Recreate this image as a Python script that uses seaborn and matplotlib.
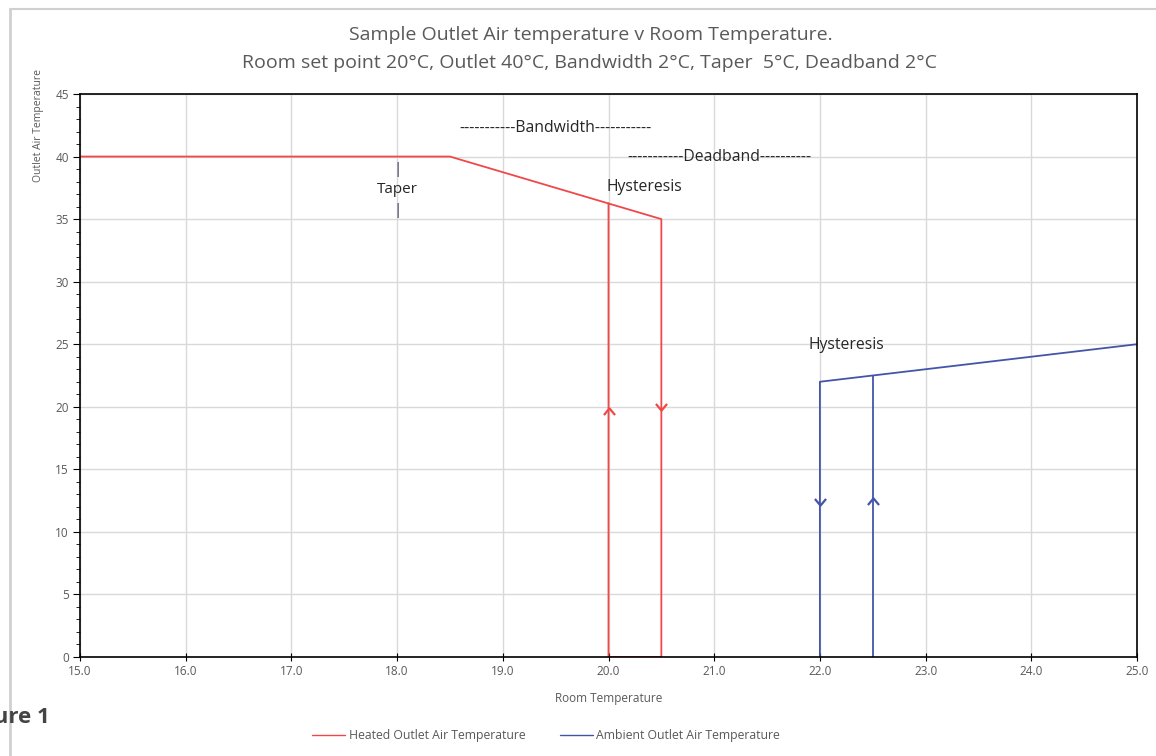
import matplotlib
matplotlib.use("Agg")
import matplotlib.pyplot as plt
import seaborn as sns
import pandas as pd
from matplotlib.lines import Line2D

# heated outlet curve (closed hysteresis loop)
heated_x = [15.0, 18.5, 20.0, 20.5, 20.5, 20.0, 20.0]
heated_y = [40.0, 40.0, 36.25, 35.0, 0.0, 0.0, 36.25]

# ambient outlet curve, two pieces
ambient_x1 = [22.0, 22.0, 25.0]
ambient_y1 = [0.0, 22.0, 25.0]
ambient_x2 = [22.5, 22.5]
ambient_y2 = [0.0, 22.5]

x_ticks = [15.0, 16.0, 17.0, 18.0, 19.0, 20.0, 21.0, 22.0, 23.0, 24.0, 25.0]
y_ticks = [0, 5, 10, 15, 20, 25, 30, 35, 40, 45]

red = "#f04848"
blue = "#4455a8"
grey = "#595959"

sns.set_style("white")
plt.rcParams["font.family"] = ["Open Sans", "DejaVu Sans"]

fig = plt.figure(figsize=(11.56, 7.56), dpi=100)
ax = fig.add_axes([80 / 1156, 1 - 657 / 756, (1137 - 80) / 1156, (657 - 94) / 756])

heated = pd.DataFrame({"x": heated_x, "y": heated_y})
amb1 = pd.DataFrame({"x": ambient_x1, "y": ambient_y1})
amb2 = pd.DataFrame({"x": ambient_x2, "y": ambient_y2})

sns.lineplot(data=heated, x="x", y="y", sort=False, estimator=None, color=red, lw=1.3, ax=ax)
sns.lineplot(data=amb1, x="x", y="y", sort=False, estimator=None, color=blue, lw=1.3, ax=ax)
sns.lineplot(data=amb2, x="x", y="y", sort=False, estimator=None, color=blue, lw=1.3, ax=ax)

# little chevron arrows on the vertical legs
up = [(-1, -1), (0, 0.2), (1, -1)]
down = [(-1, 1), (0, -0.2), (1, 1)]
ax.plot([20.0], [19.8], marker=up, ms=8, mfc="none", mec=red, mew=1.6, ls="none")
ax.plot([20.5], [19.8], marker=down, ms=8, mfc="none", mec=red, mew=1.6, ls="none")
ax.plot([22.0], [12.2], marker=down, ms=8, mfc="none", mec=blue, mew=1.6, ls="none")
ax.plot([22.5], [12.6], marker=up, ms=8, mfc="none", mec=blue, mew=1.6, ls="none")

ax.set_xlim(15, 25)
ax.set_ylim(0, 45)
ax.set_xticks(x_ticks)
ax.set_xticklabels([f"{t:.1f}" for t in x_ticks])
ax.set_yticks(y_ticks)
ax.set_yticks(range(0, 46), minor=True)
ax.grid(True, which="major", color="#d9d9d9", lw=1)
ax.set_axisbelow(True)
for s in ax.spines.values():
    s.set_color("black")
    s.set_linewidth(1.2)
ax.tick_params(axis="x", which="major", labelsize=8.5, labelcolor=grey, length=6,
               direction="inout", bottom=True, color="black", pad=3)
ax.tick_params(axis="y", which="major", labelsize=8.5, labelcolor=grey, length=5,
               direction="out", left=True, color="black", pad=3)
ax.tick_params(axis="y", which="minor", length=3, direction="out", left=True, color="black")

ax.set_xlabel("Room Temperature", fontsize=8.5, color=grey, labelpad=10)
ax.set_ylabel("")
fig.text(39 / 1156, 1 - 125 / 756, "Outlet Air Temperature", rotation=90,
         fontsize=7.5, color=grey, ha="center", va="center")

# annotations
ax.text(19.5, 42.3, "-----------Bandwidth-----------", fontsize=11.3, ha="center", va="center")
ax.text(21.05, 40.0, "-----------Deadband----------", fontsize=11.3, ha="center", va="center")
ax.text(18.0, 37.4, "Taper", fontsize=11, ha="center", va="center")
ax.text(18.0, 39.0, "|", fontsize=11, ha="center", va="center", color="#333355")
ax.text(18.0, 35.7, "|", fontsize=11, ha="center", va="center", color="#333355")
ax.text(20.34, 37.6, "Hysteresis", fontsize=11.3, ha="center", va="center")
ax.text(22.25, 24.9, "Hysteresis", fontsize=11.3, ha="center", va="center")

fig.text(591 / 1156, 1 - 35 / 756, "Sample Outlet Air temperature v Room Temperature.",
         fontsize=14, color=grey, ha="center", va="center")
fig.text(589 / 1156, 1 - 63 / 756,
         "Room set point 20°C, Outlet 40°C, Bandwidth 2°C, Taper  5°C, Deadband 2°C",
         fontsize=14, color=grey, ha="center", va="center")

# legend
handles = [Line2D([], [], color=red, lw=1.0), Line2D([], [], color=blue, lw=1.0)]
fig.legend(handles, ["Heated Outlet Air Temperature", "Ambient Outlet Air Temperature"],
           loc="center", bbox_to_anchor=(546 / 1156, 1 - 736 / 756), ncol=2, frameon=False,
           fontsize=8.8, handlelength=2.7, handletextpad=0.3, columnspacing=2.8,
           labelcolor=grey)

# cropped caption and page frame from the screenshot
fig.text(50 / 1156, 1 - 718 / 756, "Figure 1", fontsize=16, fontweight="bold",
         color="#444444", ha="right", va="center")
fig.add_artist(Line2D([10 / 1156, 10 / 1156], [0, 1 - 9 / 756], color="#d0d0d0", lw=2,
                      transform=fig.transFigure))
fig.add_artist(Line2D([10 / 1156, 1], [1 - 9 / 756, 1 - 9 / 756], color="#d0d0d0", lw=1.5,
                      transform=fig.transFigure))

fig.savefig("out.png", dpi=100)
